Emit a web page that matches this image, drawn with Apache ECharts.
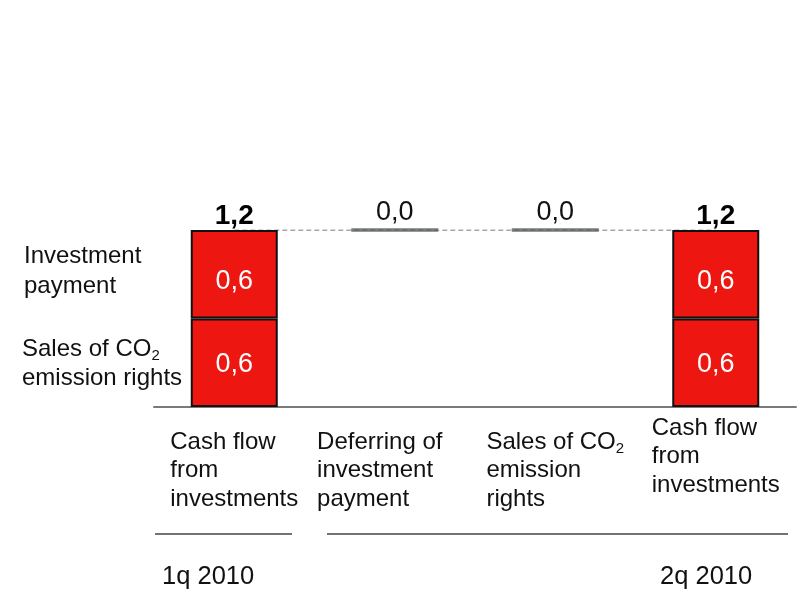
<!DOCTYPE html>
<html>
<head>
<meta charset="utf-8">
<script src="https://cdn.jsdelivr.net/npm/echarts@6.0.0/dist/echarts.min.js"></script>
<style>
  html, body { margin: 0; padding: 0; background: #fff; }
  #chart { width: 798px; height: 591px; }
</style>
</head>
<body>
<div id="chart"></div>
<script>
// bridge categories
const categories = [
  'Cash flow\nfrom\ninvestments',
  'Deferring of\ninvestment\npayment',
  'Sales of CO2\nemission\nrights',
  'Cash flow\nfrom\ninvestments'
]
// stacked segments of the two cash flow bars
const salesCO2 = [0.6, null, null, 0.6]
const investPayment = [0.6, null, null, 0.6]
// changes between the two quarters
const changes = [null, 0.0, 0.0, null]
const segmentNames = ['Investment\npayment', 'Sales of CO2\nemission rights']
const periods = ['1q 2010', '2q 2010']

const FONT = "'Liberation Sans', Arial, sans-serif"
const fmt = (v) => v.toFixed(1).replace('.', ',')

// running totals, the change bars float on the previous total
const level = []
let running = 0
categories.forEach((c, i) => {
  if (changes[i] == null) {
    running = salesCO2[i] + investPayment[i]
  } else {
    running += changes[i]
  }
  level.push(running)
})

const dash = (arr) => arr.map((v) => (v == null ? '-' : v))

function richLine(line, style) {
  if (line.includes('CO2')) {
    return `{${style}|${line.replace('CO2', 'CO')}}{s|2}`
  }
  return `{${style}|${line}}`
}

const chart = echarts.init(document.getElementById('chart'))

chart.setOption({
  animation: false,
  textStyle: { fontFamily: FONT },
  grid: { left: 154, right: 2, top: 230, bottom: 184 },
  xAxis: {
    type: 'category',
    data: categories,
    axisLine: { lineStyle: { color: '#7a7a7a', width: 2 } },
    axisTick: { show: false },
    axisLabel: {
      interval: 0,
      margin: 7,
      verticalAlign: 'top',
      formatter: (value, index) => {
        const lines = value.split('\n').map((line) => richLine(line, index === 1 ? 'w' : 'n'))
        // the last column's label sits a little higher
        return (index === 3 ? '' : '{g| }\n') + lines.join('\n')
      },
      rich: {
        g: { fontSize: 10, lineHeight: 14, align: 'left' },
        n: { fontSize: 24, lineHeight: 28.5, color: '#111', align: 'left' },
        w: { fontSize: 24, lineHeight: 28.5, color: '#111', align: 'left', padding: [0, 30, 0, 0] },
        s: { fontSize: 15, lineHeight: 12, color: '#111', align: 'left', verticalAlign: 'bottom' }
      }
    }
  },
  yAxis: {
    type: 'value',
    min: 0,
    max: 1.2,
    show: false,
    splitLine: { show: false }
  },
  series: [
    {
      name: 'connector',
      type: 'line',
      data: level,
      z: 1,
      symbol: 'circle',
      symbolSize: 1,
      itemStyle: { color: 'rgba(0,0,0,0)' },
      lineStyle: { color: '#555', width: 1, type: [5, 3] },
      label: {
        show: true,
        position: 'top',
        distance: -1,
        formatter: (p) => (changes[p.dataIndex] == null
          ? `{t|${fmt(level[p.dataIndex])}}`
          : `{d|${fmt(changes[p.dataIndex])}}`),
        rich: {
          t: { fontSize: 28, fontWeight: 'bold', color: '#000' },
          d: { fontSize: 27, color: '#111', padding: [0, 0, 4, 0] }
        }
      }
    },
    {
      name: 'Sales of CO2 emission rights',
      type: 'bar',
      stack: 'w',
      data: dash(salesCO2),
      barWidth: 87,
      z: 2,
      itemStyle: { color: '#ee1610', borderColor: '#111', borderWidth: 2 },
      label: {
        show: true,
        position: 'inside',
        offset: [0, 2],
        color: '#fff',
        fontSize: 27,
        formatter: (p) => fmt(p.value)
      }
    },
    {
      name: 'Investment payment',
      type: 'bar',
      stack: 'w',
      data: dash(investPayment),
      barWidth: 87,
      z: 2,
      itemStyle: { color: '#ee1610', borderColor: '#111', borderWidth: 2 },
      label: {
        show: true,
        position: 'inside',
        offset: [0, 7],
        color: '#fff',
        fontSize: 27,
        formatter: (p) => fmt(p.value)
      }
    },
    {
      name: 'change',
      type: 'scatter',
      data: level.map((v, i) => (changes[i] == null ? '-' : v)),
      symbol: 'rect',
      symbolSize: [87, 3.5],
      z: 3,
      itemStyle: { color: '#565b5b' }
    }
  ],
  graphic: [
    {
      type: 'text',
      left: 24,
      top: 244,
      style: {
        text: segmentNames[0].split('\n').map((l) => richLine(l, 'a')).join('\n'),
        rich: {
          a: { fontSize: 24, lineHeight: 30, fill: '#111', fontFamily: FONT }
        }
      }
    },
    {
      type: 'text',
      left: 22,
      top: 337,
      style: {
        text: segmentNames[1].split('\n').map((l) => richLine(l, 'a')).join('\n'),
        rich: {
          a: { fontSize: 24, lineHeight: 29, fill: '#111', fontFamily: FONT },
          s: { fontSize: 15, lineHeight: 12, fill: '#111', fontFamily: FONT, verticalAlign: 'bottom' }
        }
      }
    },
    {
      type: 'line',
      shape: { x1: 155, y1: 534, x2: 292, y2: 534 },
      style: { stroke: '#444', lineWidth: 1.5 }
    },
    {
      type: 'line',
      shape: { x1: 327, y1: 534, x2: 788, y2: 534 },
      style: { stroke: '#444', lineWidth: 1.5 }
    },
    {
      type: 'text',
      left: 162,
      top: 564,
      style: { text: periods[0], fontSize: 25.5, fill: '#111', fontFamily: FONT }
    },
    {
      type: 'text',
      left: 660,
      top: 564,
      style: { text: periods[1], fontSize: 25.5, fill: '#111', fontFamily: FONT }
    }
  ]
})
</script>
</body>
</html>
